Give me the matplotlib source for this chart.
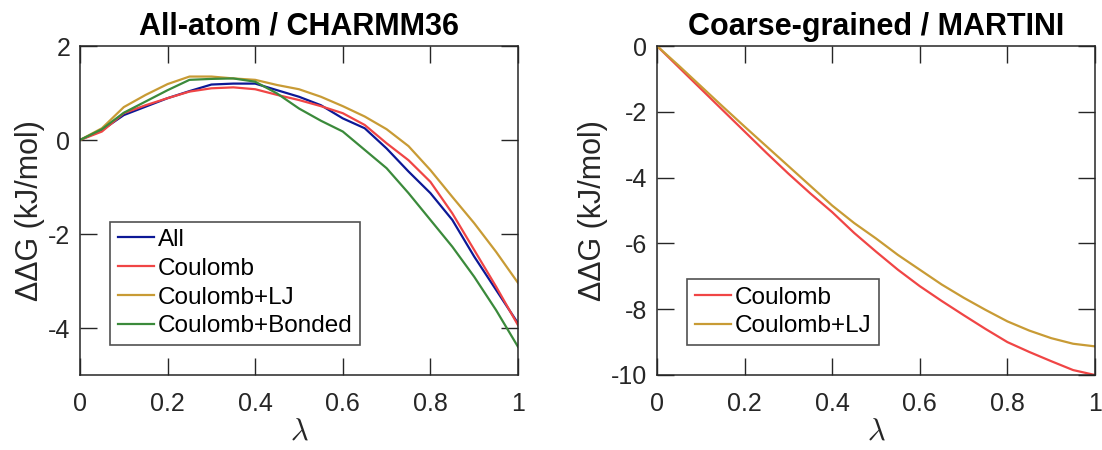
import numpy as np
import matplotlib.pyplot as plt

plt.rcParams['font.family'] = ['Liberation Sans', 'DejaVu Sans']
plt.rcParams['mathtext.fontset'] = 'cm'

# lambda grid
lam = [0.0, 0.05, 0.1, 0.15, 0.2, 0.25, 0.3, 0.35, 0.4, 0.45, 0.5,
       0.55, 0.6, 0.65, 0.7, 0.75, 0.8, 0.85, 0.9, 0.95, 1.0]

# All-atom / CHARMM36
aa_all = [0, 0.21, 0.53, 0.71, 0.89, 1.04, 1.18, 1.20, 1.20, 1.06, 0.92,
          0.74, 0.46, 0.25, -0.18, -0.67, -1.13, -1.70, -2.48, -3.19, -3.90]
aa_coul = [0, 0.18, 0.57, 0.74, 0.89, 1.03, 1.10, 1.12, 1.08, 0.96, 0.85,
           0.72, 0.57, 0.32, -0.07, -0.43, -0.89, -1.56, -2.34, -3.12, -3.94]
aa_coul_lj = [0, 0.25, 0.70, 0.96, 1.19, 1.35, 1.35, 1.31, 1.28, 1.17, 1.08,
              0.92, 0.72, 0.50, 0.23, -0.13, -0.64, -1.21, -1.77, -2.38, -3.04]
aa_coul_bond = [0, 0.23, 0.58, 0.82, 1.06, 1.28, 1.30, 1.31, 1.24, 0.99, 0.67,
                0.41, 0.18, -0.21, -0.60, -1.13, -1.70, -2.27, -2.91, -3.62, -4.40]

# Coarse-grained / MARTINI
cg_coul = [0, -0.65, -1.30, -1.95, -2.60, -3.25, -3.88, -4.48, -5.05, -5.68, -6.25,
           -6.80, -7.30, -7.75, -8.18, -8.60, -9.00, -9.30, -9.58, -9.85, -10.0]
cg_coul_lj = [0, -0.60, -1.22, -1.84, -2.45, -3.05, -3.65, -4.25, -4.85, -5.38, -5.85,
              -6.35, -6.80, -7.25, -7.65, -8.02, -8.37, -8.65, -8.88, -9.05, -9.13]

c_all = '#0c1896'
c_coul = '#f04545'
c_lj = '#c89b35'
c_bond = '#3b8a3b'
dark = '#262626'

fig = plt.figure(figsize=(11.02, 4.5), dpi=100)
ax1 = fig.add_axes([80/1102, 75/450, 438/1102, 329/450])
ax2 = fig.add_axes([657/1102, 75/450, 438/1102, 329/450])

ax1.plot(lam, aa_all, color=c_all, lw=1.6, label='All')
ax1.plot(lam, aa_coul, color=c_coul, lw=1.6, label='Coulomb')
ax1.plot(lam, aa_coul_lj, color=c_lj, lw=1.6, label='Coulomb+LJ')
ax1.plot(lam, aa_coul_bond, color=c_bond, lw=1.6, label='Coulomb+Bonded')
ax1.set_ylim(-5, 2)
ax1.set_yticks([-4, -2, 0, 2])
ax1.set_title('All-atom / CHARMM36', fontsize=22, fontweight='bold', pad=8)

ax2.plot(lam, cg_coul, color=c_coul, lw=1.6, label='Coulomb')
ax2.plot(lam, cg_coul_lj, color=c_lj, lw=1.6, label='Coulomb+LJ')
ax2.set_ylim(-10, 0)
ax2.set_yticks([-10, -8, -6, -4, -2, 0])
ax2.set_title('Coarse-grained / MARTINI', fontsize=22, fontweight='bold', pad=8)

for ax in (ax1, ax2):
    ax.set_xlim(0, 1)
    ax.set_xticks([0, 0.2, 0.4, 0.6, 0.8, 1])
    ax.set_xticklabels(['0', '0.2', '0.4', '0.6', '0.8', '1'])
    ax.set_yticklabels([str(int(t)) for t in ax.get_yticks()])
    ax.tick_params(direction='in', length=12.5, width=1, top=True, right=True,
                   labelsize=18, colors=dark)
    ax.tick_params(axis='x', pad=12)
    ax.tick_params(axis='y', pad=7)
    for s in ax.spines.values():
        s.set_color(dark)
        s.set_linewidth(1.1)
    ax.set_xlabel(r'$\lambda$', fontsize=22, color=dark, labelpad=1)
    ax.set_ylabel('ΔΔG (kJ/mol)', fontsize=22, color=dark, labelpad=2)
    leg = ax.legend(loc='lower left', fontsize=17.5, frameon=True, fancybox=False,
                    edgecolor=dark, handlelength=1.5, handletextpad=0.15,
                    labelspacing=0.28, borderpad=0.3, borderaxespad=1.25)
    leg.get_frame().set_linewidth(1.2)

fig.savefig('out.png', dpi=100)
